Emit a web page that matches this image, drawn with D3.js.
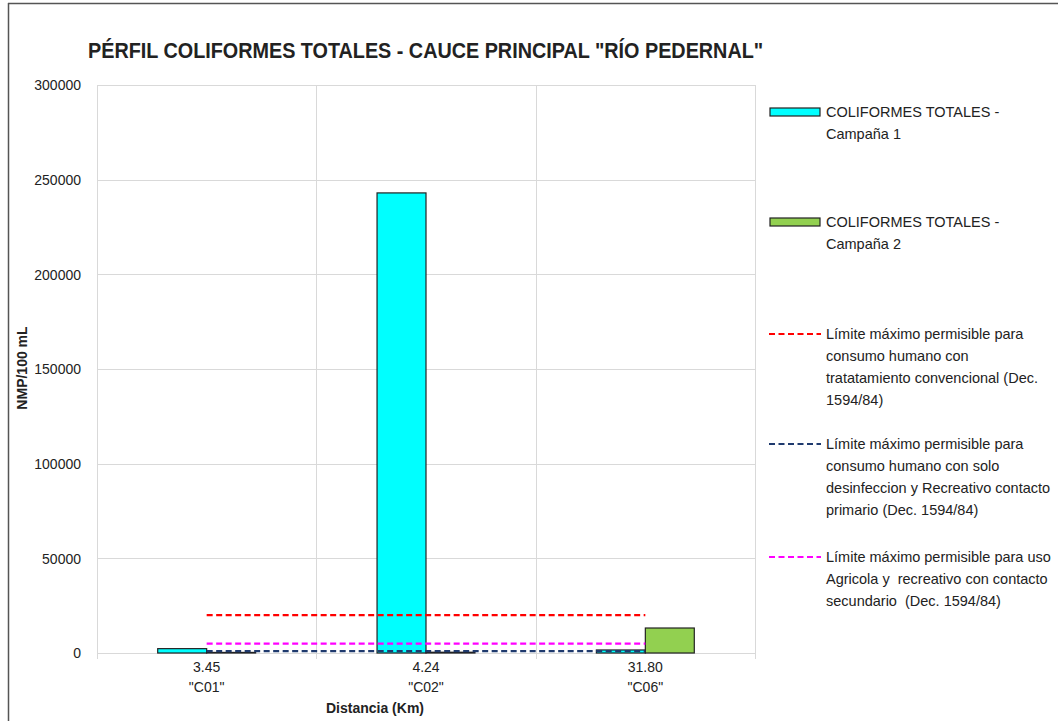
<!DOCTYPE html>
<html><head><meta charset="utf-8">
<script src="https://cdn.jsdelivr.net/npm/d3@7/dist/d3.min.js"></script>
<style>
body{margin:0;background:#fff;}
text{font-family:"Liberation Sans Narrow","Arial Narrow","Liberation Sans",Arial,sans-serif;fill:#222;white-space:pre;}
</style></head>
<body><svg id="c" width="1058" height="721"></svg>
<script>
const categories = ["3.45|\"C01\"", "4.24|\"C02\"", "31.80|\"C06\""];
const seriesNames = ["COLIFORMES TOTALES - Campaña 1", "COLIFORMES TOTALES - Campaña 2"];
const campana1 = [2300, 243000, 1600];
const campana2 = [300, 400, 13200];
const limiteConvencional = [20000, 20000, 20000];
const limiteDesinfeccion = [1000, 1000, 1000];
const limiteSecundario = [5000, 5000, 5000];
const yTicks = [0, 50000, 100000, 150000, 200000, 250000, 300000];
const legendLines = [
  ["COLIFORMES TOTALES -", "Campaña 1"],
  ["COLIFORMES TOTALES -", "Campaña 2"],
  ["Límite máximo permisible para", "consumo humano con", "tratatamiento convencional (Dec.", "1594/84)"],
  ["Límite máximo permisible para", "consumo humano con solo", "desinfeccion y Recreativo contacto", "primario (Dec. 1594/84)"],
  ["Límite máximo permisible para uso", "Agricola y  recreativo con contacto", "secundario  (Dec. 1594/84)"]
];
const barColors = ["#00FFFF", "#92D050"];
const lineColors = ["#FF0000", "#1F3A6E", "#FF00FF"];

const svg = d3.select("#c");
const L = 97, R = 755, T = 85, B = 653;

// outer border
svg.append("line").attr("x1", 8.5).attr("x2", 8.5).attr("y1", 3).attr("y2", 721).attr("stroke", "#555").attr("stroke-width", 1.5);
svg.append("line").attr("x1", 8).attr("x2", 1058).attr("y1", 3.5).attr("y2", 3.5).attr("stroke", "#555").attr("stroke-width", 1.5);

const x = d3.scaleBand().domain(categories).range([L, R]).paddingInner(0).paddingOuter(0);
const xs = d3.scaleBand().domain([0, 1]).range([0, x.bandwidth()]).paddingInner(0).paddingOuter(1.24);
const y = d3.scaleLinear().domain([0, 300000]).range([B, T]);

// horizontal grid
svg.append("g").selectAll("line").data(yTicks).join("line")
  .attr("x1", L).attr("x2", R).attr("y1", d => Math.round(y(d)) + 0.5).attr("y2", d => Math.round(y(d)) + 0.5)
  .attr("stroke", "#d9d9d9").attr("stroke-width", 1);
// vertical grid at category boundaries
const bounds = categories.map(c => x(c)).concat([R]);
svg.append("g").selectAll("line").data(bounds).join("line")
  .attr("x1", d => Math.round(d) + 0.5).attr("x2", d => Math.round(d) + 0.5).attr("y1", T).attr("y2", B + 6)
  .attr("stroke", "#d9d9d9").attr("stroke-width", 1);

// y axis labels
const yAxis = d3.axisLeft(y).tickValues(yTicks).tickFormat(d3.format("d")).tickSize(0).tickPadding(0);
const gy = svg.append("g").attr("transform", `translate(${L - 16},0)`).call(yAxis);
gy.select(".domain").remove();
gy.selectAll("text").style("font-size", "14px").attr("dy", "0.35em").attr("fill", "#222");

// bars
const series = [campana1, campana2];
series.forEach((vals, si) => {
  svg.append("g").selectAll("rect").data(vals).join("rect")
    .attr("x", (d, i) => x(categories[i]) + xs(si))
    .attr("y", d => y(d))
    .attr("width", xs.bandwidth())
    .attr("height", d => B - y(d))
    .attr("fill", barColors[si]).attr("stroke", "#222").attr("stroke-width", 1.2);
});

// limit lines
const limits = [limiteConvencional, limiteDesinfeccion, limiteSecundario];
const lineGen = d3.line().x((d, i) => x(categories[i]) + x.bandwidth() / 2).y(d => y(d));
limits.forEach((vals, li) => {
  svg.append("path").attr("d", lineGen(vals)).attr("fill", "none")
    .attr("stroke", lineColors[li]).attr("stroke-width", 2.2).attr("stroke-dasharray", "6,3.5");
});

// x labels
const gx = svg.append("g");
categories.forEach(c => {
  const [a, b] = c.split("|");
  const cx = x(c) + x.bandwidth() / 2;
  gx.append("text").attr("x", cx).attr("y", 672).attr("text-anchor", "middle").style("font-size", "14px").text(a);
  gx.append("text").attr("x", cx).attr("y", 692).attr("text-anchor", "middle").style("font-size", "14px").text(b);
});

// axis titles
svg.append("text").attr("x", 375).attr("y", 713).attr("text-anchor", "middle")
  .style("font-size", "14px").style("font-weight", "bold").text("Distancia (Km)");
svg.append("text").attr("transform", "translate(27,368) rotate(-90)").attr("text-anchor", "middle")
  .style("font-size", "14px").style("font-weight", "bold").text("NMP/100 mL");

// title (condensed horizontally)
svg.append("text").attr("transform", "translate(88,58) scale(0.9,1)").style("font-size", "22px").style("font-weight", "bold")
  .text("PÉRFIL COLIFORMES TOTALES - CAUCE PRINCIPAL \"RÍO PEDERNAL\"");

// legend
const legendY = [112, 222, 334, 444, 557];
const lg = svg.append("g");
legendLines.forEach((lines, i) => {
  const yy = legendY[i];
  if (i < 2) {
    lg.append("rect").attr("x", 770).attr("y", yy - 4).attr("width", 50).attr("height", 8)
      .attr("fill", barColors[i]).attr("stroke", "#222").attr("stroke-width", 1.2);
  } else {
    lg.append("line").attr("x1", 769).attr("x2", 821).attr("y1", yy).attr("y2", yy)
      .attr("stroke", lineColors[i - 2]).attr("stroke-width", 2).attr("stroke-dasharray", "6,3.5");
  }
  lines.forEach((t, k) => {
    lg.append("text").attr("x", 826).attr("y", yy + k * 22).attr("dy", "0.35em")
      .style("font-size", "14.5px").text(t);
  });
});
</script></body></html>
